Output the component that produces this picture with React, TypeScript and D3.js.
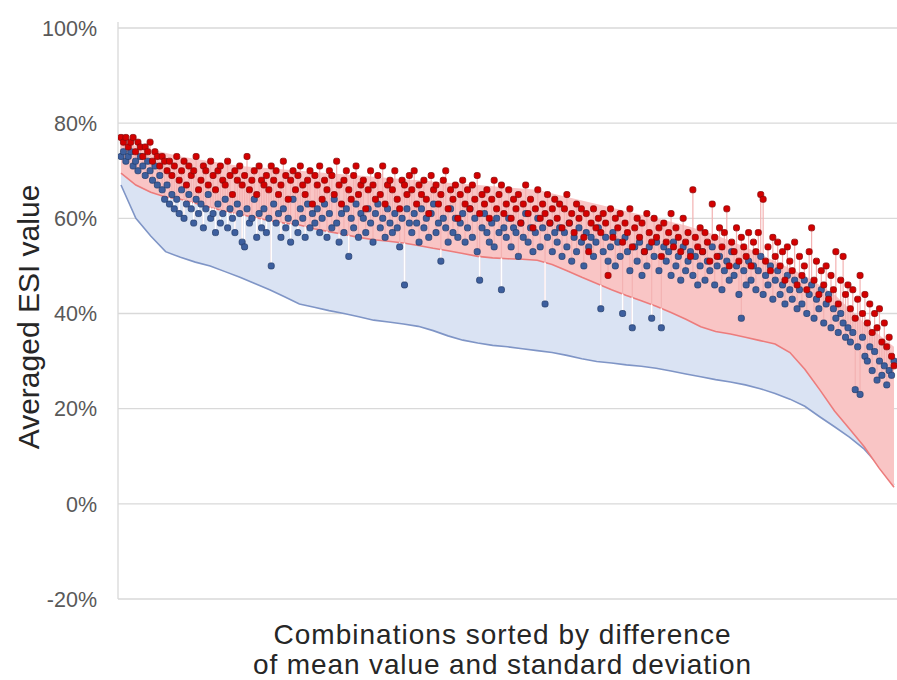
import React from 'react';
import * as d3 from 'd3';

const yTicks = [-20, 0, 20, 40, 60, 80, 100];
const xTitle = ['Combinations sorted by difference', 'of mean value and standard deviation'];
const yTitle = 'Averaged ESI value';

// upper (red) markers per combination, %
const redDots = [
  77,76,77,75,76,77,74,76,75,73,75,74,76,72,74,73,71,73,72,70,
  72,69,71,73,68,70,72,67,71,69,70,73,66,68,71,70,67,72,69,66,
  70,71,68,67,72,69,65,70,68,71,67,69,73,66,68,70,65,71,68,67,
  69,66,71,68,70,65,67,72,69,64,68,70,66,69,71,67,65,68,70,63,
  69,67,71,64,68,66,70,69,65,72,67,63,68,70,66,64,69,71,65,67,
  68,62,66,70,67,64,69,65,71,63,67,68,66,70,64,62,68,67,65,69,
  66,70,63,67,65,68,64,61,69,66,67,63,65,68,70,62,66,64,67,60,
  65,68,63,66,62,67,64,69,61,65,63,66,60,64,68,62,65,67,61,63,
  66,60,64,62,65,59,63,67,61,64,58,62,66,60,63,61,65,59,62,64,
  60,63,58,62,65,59,61,57,63,60,62,56,61,53,59,62,58,60,57,61,
  59,48,62,56,60,58,61,55,59,57,62,54,58,60,56,59,53,61,57,55,
  60,56,58,52,59,55,57,61,54,58,56,53,60,55,57,52,66,56,54,58,
  53,57,55,51,63,56,52,58,54,57,62,50,55,53,58,51,56,54,52,57,
  50,55,53,57,65,64,51,54,49,56,52,55,50,53,47,54,51,49,55,46,
  52,48,50,45,53,58,47,51,44,49,46,50,43,48,45,53,42,47,52,44,
  46,41,45,39,43,48,40,44,38,42,36,40,37,41,34,38,33,35,31,29,
];

// lower (blue) markers per combination, %
const blueDots = [
  73,74,72,73,74,71,72,70,73,71,69,72,70,68,71,67,69,66,64,67,
  63,65,62,64,61,66,60,63,65,62,59,64,61,63,58,62,65,60,61,57,
  63,59,61,64,58,62,60,57,63,61,55,54,62,59,60,64,56,61,58,62,
  57,60,50,63,59,61,56,62,58,60,55,64,59,57,62,60,56,63,58,61,
  59,62,57,60,63,56,61,58,64,59,55,61,57,62,52,60,58,63,56,61,
  60,57,62,59,55,61,63,58,60,56,62,59,57,61,58,54,60,46,62,59,
  57,61,59,55,62,58,60,56,61,63,57,59,51,60,58,55,62,57,60,56,
  59,61,55,58,62,56,60,53,47,58,61,57,55,59,54,60,57,45,58,56,
  60,54,58,57,52,59,56,61,55,58,53,57,60,54,58,42,56,59,53,57,
  55,58,52,57,54,59,51,56,53,58,55,50,57,54,56,52,55,58,41,53,
  56,51,54,57,50,55,52,40,56,53,49,37,54,51,55,48,53,50,54,39,
  52,55,49,37,54,51,53,48,55,50,52,47,54,49,51,53,48,52,46,50,
  53,47,51,49,54,46,50,52,45,49,51,47,53,48,50,44,39,49,46,51,
  47,50,45,49,52,44,48,46,50,43,47,49,44,46,42,48,45,43,47,41,
  45,42,47,40,44,46,39,43,41,45,38,42,44,37,41,39,36,40,38,35,
  37,34,36,24,33,23,35,31,30,33,28,32,26,30,27,29,25,28,27,30,
];

// boundary lines, sampled evenly along the x axis
const redLine = [
  69.5,67,65.5,64.5,64,63.2,62.3,61.5,60.8,60.2,59.5,59,58.6,57.8,57.2,56.6,56,55.5,55.2,54.8,
  54.3,53.7,53.2,52.6,52,51.7,51.5,51.4,51.2,50.3,49,47.6,46.3,45,43.8,42.7,41.5,40.2,38.8,37.2,
  36.2,35.7,35,34.3,33.6,31.8,28.3,24,19.5,15.8,12,7.5,3.5,
];
const blueLine = [
  67,60,56.3,53,51.8,50.8,50,48.8,47.6,46.3,45,43.5,42,41.3,40.6,40,39.3,38.6,38.2,37.8,
  37.3,36.4,35.3,34.4,33.8,33.3,33,32.6,32.2,31.8,31.2,30.5,29.9,29.6,29.2,28.9,28.5,27.9,27.3,26.7,
  26.1,25.6,25,24.2,23.2,22,20.5,18.3,16.2,14,11.5,8,4,
];
// upper edge of the pink band, sampled evenly along the x axis
const pinkTop = [
  76,74.5,73,72,71,70.5,70,69.5,69,68.5,68,67.5,67,66.5,66,64.5,63,61.5,60,58.5,
  56.5,54,51,48,44,38,33,
];

const FONT = '"Liberation Sans", Arial, sans-serif';

export default function App() {
  const W = 897, H = 680;
  const left = 118, top = 28, bottom = 599;
  const N = redDots.length;
  const x = d3.scaleLinear().domain([0, N - 1]).range([121, 894]);
  const y = d3.scaleLinear().domain([-20, 100]).range([bottom, top]);

  const at = (k: number, M: number) => x((k * (N - 1)) / (M - 1));
  const redPts: [number, number][] = redLine.map((v, k) => [at(k, redLine.length), y(v)]);
  const bluePts: [number, number][] = blueLine.map((v, k) => [at(k, blueLine.length), y(v)]);
  const topPts: [number, number][] = pinkTop.map((v, k) => [at(k, pinkTop.length), y(v)]);

  const line = d3.line();
  const blueArea = d3.area<number>()
    .x((_, k) => at(k, blueLine.length))
    .y0((v) => y(v))
    .y1((_, k) => y(redLine[k]))(blueLine) as string;
  const pinkPath = (line([...topPts, ...[...redPts].reverse()]) as string) + 'Z';
  const belowRed = (line([...redPts, [x(N - 1), bottom], [x(0), bottom]]) as string) + 'Z';
  const s = 6;
  const titleLen = [457, 498];

  return (
    <svg width={W} height={H} style={{ position: 'absolute', left: 0, top: 0, background: '#fff' }} fontFamily={FONT}>
      <defs>
        <clipPath id="belowRed"><path d={belowRed} /></clipPath>
        <clipPath id="plot"><rect x={left} y={0} width={W - left} height={bottom} /></clipPath>
      </defs>
      {yTicks.map((t) => (
        <g key={t}>
          <line x1={left} x2={W} y1={y(t)} y2={y(t)} stroke="#d9d9d9" strokeWidth={1.3} />
          <text x={97} y={y(t)} dy="0.36em" textAnchor="end" fontSize={21.5} fill="#595959">{t}%</text>
        </g>
      ))}
      <line x1={left} x2={left} y1={top - 6} y2={bottom} stroke="#d9d9d9" strokeWidth={1.3} />
      <g clipPath="url(#plot)">
        <path d={blueArea} fill="#dae3f3" />
        <path d={line(bluePts) as string} fill="none" stroke="#7f95c6" strokeWidth={1.6} />
        <path d={pinkPath} fill="#f9c5c5" />
        <path d={line(redPts) as string} fill="none" stroke="#ec7c7c" strokeWidth={1.6} />
        {redDots.map((r, i) => {
          const b = blueDots[i];
          return <line key={'s' + i} x1={x(i)} x2={x(i)} y1={y(Math.max(r, b))} y2={y(Math.min(r, b))} stroke="#f3b2b2" strokeWidth={1.2} />;
        })}
        <g clipPath="url(#belowRed)">
          {redDots.map((r, i) => {
            const b = blueDots[i];
            return <line key={'w' + i} x1={x(i)} x2={x(i)} y1={y(Math.max(r, b))} y2={y(Math.min(r, b))} stroke="#ffffff" strokeWidth={1.5} />;
          })}
        </g>
        {blueDots.map((v, i) => (
          <rect key={'b' + i} x={x(i) - s / 2} y={y(v) - s / 2} width={s} height={s} rx={2} fill="#3d5f9e" stroke="#27406e" strokeWidth={0.8} />
        ))}
        {redDots.map((v, i) => (
          <rect key={'r' + i} x={x(i) - s / 2} y={y(v) - s / 2} width={s} height={s} rx={2} fill="#d40000" stroke="#8a0a0a" strokeWidth={0.8} />
        ))}
      </g>
      <text transform={`translate(28,317) rotate(-90)`} textAnchor="middle" dy="0.35em" fontSize={30} fill="#262626">{yTitle}</text>
      {xTitle.map((t, k) => (
        <text key={k} x={502} y={644 + k * 30} textAnchor="middle" fontSize={28} textLength={titleLen[k]} lengthAdjust="spacing" fill="#262626">{t}</text>
      ))}
    </svg>
  );
}
